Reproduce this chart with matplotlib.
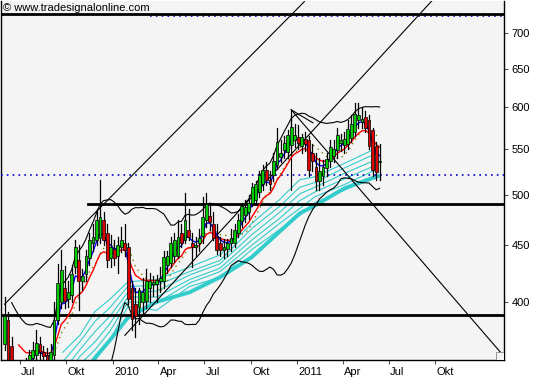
import numpy as np
import pandas as pd
import matplotlib
matplotlib.use("Agg")
import matplotlib.pyplot as plt
import matplotlib.dates as mdates
from matplotlib.patches import Rectangle

plt.rcParams["font.family"] = ["Liberation Sans", "DejaVu Sans"]

# ---------------- data (weekly candles) ----------------
start_date = "2009-06-01"
opens = [366, 385, 365, 346, 340, 344, 348, 348, 356, 358, 366, 360, 358, 354, 358, 385, 400, 412, 402, 406,
         430, 436, 418, 424, 438, 452, 455, 457, 474, 462, 438, 447, 440, 448, 452, 448, 412, 398, 396, 400,
         401, 412, 415, 415, 418, 418, 432, 434, 440, 440, 462, 455, 465, 452, 448, 452, 459, 474, 478, 470,
         458, 452, 446, 447, 452, 452, 462, 473, 479, 482, 492, 495, 503, 511, 526, 516, 521, 532, 541, 549,
         547, 555, 560, 564, 553, 562, 560, 546, 530, 515, 520, 529, 537, 542, 549, 557, 555, 556, 563, 570,
         585, 582, 588, 584, 572, 553, 535]
highs = [404, 392, 372, 352, 348, 352, 356, 362, 368, 377, 372, 365, 363, 366, 400, 433, 446, 431, 418, 432,
         455, 450, 428, 446, 462, 470, 485, 516, 482, 470, 460, 455, 458, 468, 470, 452, 418, 412, 412, 420,
         428, 425, 422, 423, 430, 445, 445, 458, 462, 474, 470, 502, 485, 462, 458, 466, 498, 502, 490, 482,
         470, 458, 456, 456, 466, 470, 480, 492, 495, 500, 512, 515, 525, 532, 535, 525, 545, 575, 560, 565,
         572, 590, 580, 578, 568, 570, 565, 556, 545, 540, 538, 545, 560, 560, 575, 568, 570, 585, 590, 606,
         605, 600, 596, 590, 575, 558, 556]
lows = [362, 348, 338, 334, 330, 336, 340, 343, 350, 352, 355, 352, 348, 347, 354, 382, 395, 395, 396, 400,
        425, 393, 410, 418, 432, 445, 450, 452, 450, 430, 430, 432, 425, 444, 440, 398, 377, 372, 382, 390,
        395, 400, 405, 400, 408, 412, 425, 430, 435, 438, 448, 452, 455, 430, 440, 445, 452, 468, 465, 455,
        442, 440, 438, 440, 445, 448, 458, 468, 472, 475, 488, 490, 498, 505, 510, 505, 515, 528, 535, 540,
        540, 550, 552, 550, 545, 548, 520, 525, 505, 505, 510, 520, 530, 535, 540, 548, 545, 550, 558, 565,
        575, 575, 570, 550, 520, 516, 516]
closes = [388, 352, 345, 340, 344, 348, 346, 358, 362, 367, 360, 357, 354, 360, 385, 416, 427, 401, 408, 424,
          448, 418, 422, 440, 455, 458, 474, 477, 455, 436, 448, 438, 450, 455, 446, 402, 386, 388, 410, 408,
          418, 418, 417, 419, 420, 439, 440, 452, 455, 458, 452, 474, 458, 448, 450, 457, 477, 490, 472, 457,
          446, 446, 448, 452, 457, 465, 474, 488, 487, 492, 508, 511, 521, 526, 516, 511, 537, 558, 546, 557,
          566, 576, 566, 557, 564, 556, 526, 537, 515, 525, 530, 539, 552, 550, 566, 560, 562, 574, 580, 592,
          590, 586, 575, 553, 526, 524, 537]

# long moving-average ribbon (sample dates)
ribbon_dates = ["2009-09-24", "2009-10-28", "2009-11-27", "2009-12-26", "2010-01-31", "2010-03-29",
                "2010-06-02", "2010-08-01", "2010-10-03", "2010-11-27", "2011-01-06", "2011-02-05",
                "2011-04-05", "2011-06-10"]
ribbon_1 = [360, 373, 392, 402, 417, 419, 430, 441, 471, 495, 516, 519, 534, 552]
ribbon_2 = [353, 368, 384, 395, 413, 414, 426, 436, 466, 488, 508, 513, 529, 546]
ribbon_3 = [346, 362, 376, 388, 408, 409, 423, 433, 460, 482, 501, 508, 523, 539]
ribbon_4 = [338, 357, 368, 382, 404, 404, 419, 429, 455, 476, 494, 503, 517, 533]
ribbon_5 = [332, 351, 362, 376, 400, 399, 416, 426, 450, 471, 486, 498, 511, 528]
ribbon_6 = [325, 347, 354, 369, 396, 393, 413, 421, 446, 465, 479, 492, 505, 521]
slow_line = [320, 340, 356, 369, 387, 400, 408, 421, 439, 463, 481, 489, 507, 520]

# horizontal levels
thick_levels = [729, 389]
support_level = 491
support_from = "2009-11-14"
dotted_top = 726
dotted_top_from = "2010-03-15"
dotted_mid = 521

# trend lines: (date, value) pairs
trend_lines = [
    (("2009-06-01", 398), ("2011-01-15", 748)),
    (("2010-01-25", 373), ("2011-09-24", 749)),
    (("2010-12-20", 597), ("2012-02-14", 357)),
    (("2010-12-20", 597), ("2010-12-20", 505)),
    (("2010-12-20", 597), ("2011-02-01", 581)),
]

yticks = [400, 450, 500, 550, 600, 650, 700]
xtick_dates = ["2009-07-01", "2009-10-01", "2010-01-01", "2010-04-01", "2010-07-01", "2010-10-01",
               "2011-01-01", "2011-04-01", "2011-07-01", "2011-10-01"]
xtick_labels = ["Jul", "Okt", "2010", "Apr", "Jul", "Okt", "2011", "Apr", "Jul", "Okt"]

# ---------------- derived indicators ----------------
dates = pd.date_range(start_date, periods=len(closes), freq="7D")
x = mdates.date2num(dates)
c = pd.Series(closes, dtype=float)
ema_fast = c.ewm(span=5, adjust=False).mean()
ema_slow = c.ewm(span=11, adjust=False).mean()
sma10 = c.rolling(10).mean()
mid = c.rolling(20, min_periods=3).mean()
sd = c.rolling(20, min_periods=3).std(ddof=0)
bb_up = mid + 2 * sd
bb_lo = mid - 2 * sd
warm = 4  # moving-average warm-up weeks not drawn
bb_warm = 2

# ---------------- figure ----------------
W, H = 533, 380
fig = plt.figure(figsize=(W / 100, H / 100), dpi=100, facecolor="white")
ax = fig.add_axes([1 / W, (H - 360) / H, (504 - 1) / W, (360 - 1) / H])
ax.set_facecolor("#f4f4f4")
ax.set_yscale("log")
ax.set_ylim(354.3, 749)
xmin = mdates.datestr2num("2009-05-25")
xmax = mdates.datestr2num("2012-02-14")
ax.set_xlim(xmin, xmax)

# ribbon
rx = mdates.date2num(pd.to_datetime(ribbon_dates))
for r in [ribbon_1, ribbon_2, ribbon_3, ribbon_4, ribbon_5, ribbon_6]:
    ax.plot(rx, r, color="#33cccc", lw=0.8, zorder=2)
ax.plot(rx, slow_line, color="#33cccc", lw=2.8, zorder=2)

# levels
ax.plot([mdates.datestr2num(dotted_top_from), xmax], [dotted_top, dotted_top],
        color="#0000cc", lw=1.2, ls=(0, (1, 2.5)), zorder=3)
ax.axhline(dotted_mid, color="#0000cc", lw=1.2, ls=(0, (1, 2.5)), zorder=3)
for lv in thick_levels:
    ax.axhline(lv, color="black", lw=2, zorder=3)
ax.plot([mdates.datestr2num(support_from), xmax], [support_level, support_level], color="black", lw=2, zorder=3)

# trend lines
for (d0, v0), (d1, v1) in trend_lines:
    ax.plot([mdates.datestr2num(d0), mdates.datestr2num(d1)], [v0, v1], color="black", lw=0.8, zorder=3)

# bollinger
ax.plot(x[bb_warm:], bb_up[bb_warm:], color="black", lw=0.8, zorder=3)
ax.plot(x[bb_warm:], bb_lo[bb_warm:], color="black", lw=0.8, zorder=3)

# moving averages
ax.plot(x, sma10, color="#808000", lw=1.0, ls=(0, (1, 3)), zorder=4)
ax.plot(x[warm:], ema_slow[warm:], color="#ff0000", lw=1, zorder=4)
ax.plot(x[warm:], ema_fast[warm:], color="#0000ff", lw=1, zorder=4)

# candles
bw = 5.6
for xi, o, h, l, cl in zip(x, opens, highs, lows, closes):
    ax.plot([xi, xi], [l, h], color="black", lw=0.9, zorder=5)
    col = "#00cc00" if cl >= o else "#e00000"
    lo_, hi_ = min(o, cl), max(o, cl)
    ax.add_patch(Rectangle((xi - bw / 2, lo_), bw, max(hi_ - lo_, 0.6), facecolor=col,
                           edgecolor="black", lw=0.5, zorder=6))

# axes styling
ax.spines["top"].set_visible(False)
for s in ["left", "right", "bottom"]:
    ax.spines[s].set_linewidth(1)
ax.yaxis.tick_right()
ax.set_yticks(yticks)
ax.set_yticklabels([str(v) for v in yticks])
ax.yaxis.set_minor_locator(matplotlib.ticker.NullLocator())
ax.tick_params(axis="y", which="major", length=3, width=0.8, color="#555555", labelsize=8, pad=2.5)

xt = mdates.date2num(pd.to_datetime(xtick_dates))
ax.set_xticks(xt)
ax.set_xticklabels(xtick_labels, ha="left")
ax.tick_params(axis="x", length=3, width=0.8, color="#555555", labelsize=8, pad=2)
offset = matplotlib.transforms.ScaledTranslation(1 / 72, 0, fig.dpi_scale_trans)
for lbl in ax.get_xticklabels():
    lbl.set_transform(lbl.get_transform() + offset)

fig.text(3 / W, 1 - 3 / H, "\u00a9 www.tradesignalonline.com", fontsize=8, color="black",
         va="top", ha="left", zorder=10)

# corner gadget
ax.add_patch(Rectangle((496 / W, (H - 360) / H), 8 / W, 8 / H, transform=fig.transFigure,
                       facecolor="#f4f4f4", edgecolor="#888888", lw=0.6, zorder=10))

fig.savefig("out.png", dpi=100, facecolor="white")
